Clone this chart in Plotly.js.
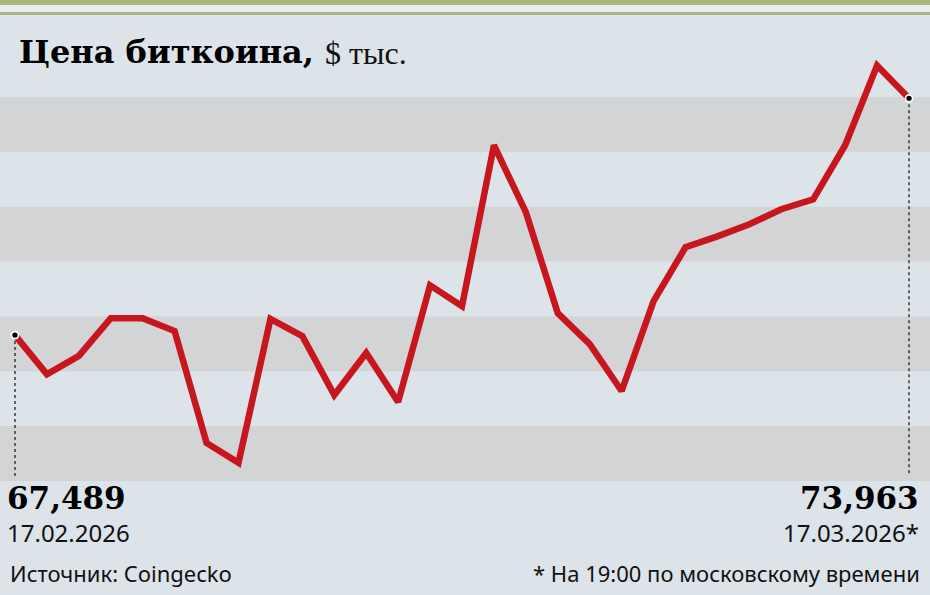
<!DOCTYPE html>
<html>
<head>
<meta charset="utf-8">
<script src="https://cdn.plot.ly/plotly-3.0.1.min.js"></script>
<style>html,body{margin:0;padding:0;background:#dce3e9;}#chart{width:930px;height:595px;}</style>
</head>
<body>
<div id="chart"></div>
<script>
// Bitcoin price, thousand USD, daily 17.02.2026 – 17.03.2026
const dates = [
  '2026-02-17','2026-02-18','2026-02-19','2026-02-20','2026-02-21','2026-02-22','2026-02-23',
  '2026-02-24','2026-02-25','2026-02-26','2026-02-27','2026-02-28','2026-03-01','2026-03-02',
  '2026-03-03','2026-03-04','2026-03-05','2026-03-06','2026-03-07','2026-03-08','2026-03-09',
  '2026-03-10','2026-03-11','2026-03-12','2026-03-13','2026-03-14','2026-03-15','2026-03-16',
  '2026-03-17'
];
const prices = [
  67.489, 66.42, 66.92, 67.95, 67.95, 67.60, 64.54,
  64.00, 67.93, 67.46, 65.85, 67.00, 65.66, 68.85,
  68.28, 72.68, 70.85, 68.09, 67.24, 65.96, 68.42,
  69.89, 70.19, 70.52, 70.93, 71.20, 72.68, 74.86,
  73.963
];
const startLabel = '67,489';
const startDate = '17.02.2026';
const endLabel = '73,963';
const endDate = '17.03.2026*';
const bandEdges = [63.5, 65, 66.5, 68, 69.5, 71, 72.5, 74];

const W = 930, H = 595;
const px = x => x / W;
const py = y => 1 - y / H;

const shapes = [];
// grey bands
for (let i = 0; i + 1 < bandEdges.length; i += 2) {
  shapes.push({type:'rect', xref:'paper', yref:'y', x0:0, x1:1, y0:bandEdges[i], y1:bandEdges[i+1],
    fillcolor:'#d3d4d6', line:{width:0}, layer:'below'});
}
// top decoration lines
shapes.push({type:'rect', xref:'paper', yref:'paper', x0:0, x1:1, y0:py(5), y1:py(0), fillcolor:'#adb57e', line:{width:0}, layer:'below'});
shapes.push({type:'rect', xref:'paper', yref:'paper', x0:0, x1:1, y0:py(12), y1:py(5), fillcolor:'#e8ecef', line:{width:0}, layer:'below'});
shapes.push({type:'rect', xref:'paper', yref:'paper', x0:0, x1:1, y0:py(15), y1:py(12), fillcolor:'#adb57e', line:{width:0}, layer:'below'});
// dashed drop lines
const dropBottom = 63.63;
[0, prices.length - 1].forEach(i => {
  shapes.push({type:'line', xref:'x', yref:'y', x0:dates[i], x1:dates[i], y0:prices[i], y1:dropBottom,
    line:{color:'#222', width:1.3, dash:'3px,3px'}, layer:'below'});
});

const traces = [
  {x:dates, y:prices, type:'scatter', mode:'lines', line:{color:'#c8161e', width:6.5}, hoverinfo:'skip'},
  {x:[dates[0], dates[dates.length-1]], y:[prices[0], prices[prices.length-1]], type:'scatter', mode:'markers',
    marker:{color:'#000', size:7, line:{color:'#fff', width:1.6}}, hoverinfo:'skip'}
];

const serifBold = '"DejaVu Serif", serif';
const textFont = '"Noto Sans", sans-serif';
const annotations = [
  {xref:'paper', yref:'paper', x:px(17), y:py(52), xanchor:'left', yanchor:'middle', showarrow:false,
    text:'<b>Цена биткоина,</b>', font:{family:serifBold, size:32, color:'#000'}},
  {xref:'paper', yref:'paper', x:px(323), y:py(53), xanchor:'left', yanchor:'middle', showarrow:false,
    text:'$ тыс.', font:{family:'"Liberation Serif", serif', size:32, color:'#111'}},
  {xref:'paper', yref:'paper', x:px(5), y:py(498), xanchor:'left', yanchor:'middle', showarrow:false,
    text:'<b>' + startLabel + '</b>', font:{family:serifBold, size:31, color:'#000'}},
  {xref:'paper', yref:'paper', x:px(5), y:py(532), xanchor:'left', yanchor:'middle', showarrow:false,
    text:startDate, font:{family:textFont, size:24, color:'#111'}},
  {xref:'paper', yref:'paper', x:px(921), y:py(498), xanchor:'right', yanchor:'middle', showarrow:false,
    text:'<b>' + endLabel + '</b>', font:{family:serifBold, size:31, color:'#000'}},
  {xref:'paper', yref:'paper', x:px(921), y:py(532), xanchor:'right', yanchor:'middle', showarrow:false,
    text:endDate, font:{family:textFont, size:24, color:'#111'}},
  {xref:'paper', yref:'paper', x:px(8), y:py(573), xanchor:'left', yanchor:'middle', showarrow:false,
    text:'Источник: Coingecko', font:{family:textFont, size:22, color:'#111'}},
  {xref:'paper', yref:'paper', x:px(922), y:py(573), xanchor:'right', yanchor:'middle', showarrow:false,
    text:'* На 19:00 по московскому времени', font:{family:textFont, size:22, color:'#111'}}
];

const layout = {
  width:W, height:H,
  margin:{l:0, r:0, t:0, b:0, pad:0},
  paper_bgcolor:'#dce3e9', plot_bgcolor:'rgba(0,0,0,0)',
  showlegend:false,
  xaxis:{type:'date', range:['2026-02-16 12:43:30','2026-03-17 15:47'], visible:false, fixedrange:true},
  yaxis:{range:[60.383, 76.652], visible:false, fixedrange:true},
  shapes:shapes, annotations:annotations
};
Plotly.newPlot('chart', traces, layout, {staticPlot:true, displayModeBar:false});
</script>
</body>
</html>
